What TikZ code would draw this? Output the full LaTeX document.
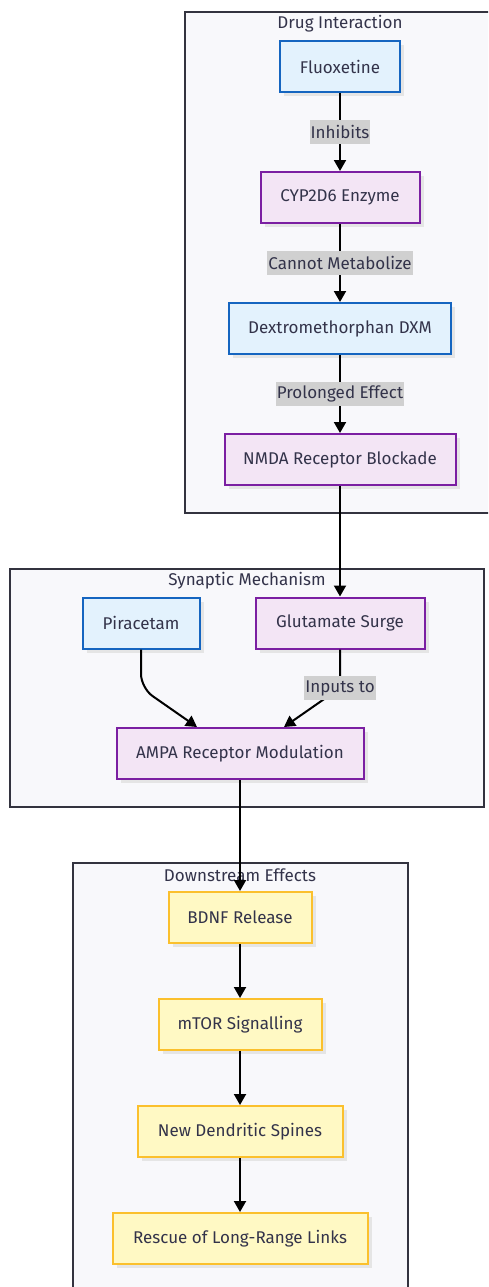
\documentclass[tikz,border=0pt]{standalone}
\usepackage{fontspec}
\setmainfont{Fira Sans}
\usepackage{tikz}
\usetikzlibrary{positioning,calc,arrows.meta,shadows}

\definecolor{drugfill}{HTML}{E3F2FD}
\definecolor{drugline}{HTML}{1565C0}
\definecolor{procfill}{HTML}{F3E5F5}
\definecolor{procline}{HTML}{7B1FA2}
\definecolor{efffill}{HTML}{FFF9C4}
\definecolor{effline}{HTML}{FBC02D}
\definecolor{grpfill}{HTML}{F8F8FB}
\definecolor{grpline}{HTML}{33333F}
\definecolor{lblgray}{HTML}{D0D0D0}
\definecolor{txtdark}{HTML}{33334A}

\tikzset{
    txt/.style={font=\fontsize{17}{20}\selectfont, text=txtdark},
    box/.style={txt, draw, line width=2pt, minimum height=51pt, inner sep=2pt,
        drop shadow={fill=black!10, shadow xshift=4pt, shadow yshift=-4pt, opacity=1}},
    drug/.style={box, fill=drugfill, draw=drugline},
    proc/.style={box, fill=procfill, draw=procline},
    effect/.style={box, fill=efffill, draw=effline},
    group/.style={draw=grpline, fill=grpfill, line width=1.5pt},
    lbl/.style={txt, fill=lblgray, inner xsep=1pt, inner ysep=0pt, minimum height=24pt},
    arr/.style={-{Triangle[length=11pt,width=12pt]}, line width=2pt, black},
}

\begin{document}
\begin{tikzpicture}[x=1pt, y=-1pt]
    \clip (0,0) rectangle (488,1287);

    % clusters
    \draw[group] (185,12) rectangle (495,513);
    \draw[group] (10,569) rectangle (484,807);
    \draw[group] (73,863) rectangle (408,1300);
    \node[txt] (t1) at (340,24) {Drug Interaction};
    \node[txt] (t2) at (247,581) {Synaptic Mechanism};
    \node[txt] (t3) at (240,875) {Downstream Effects};

    % drug interaction
    \node[drug, minimum width=120pt] (flu) at (340,66.5) {Fluoxetine};
    \node[proc, minimum width=159pt, below=78pt of flu] (cyp) {CYP2D6 Enzyme};
    \node[drug, minimum width=222pt, below=78pt of cyp] (dxm) {Dextromethorphan DXM};
    \node[proc, minimum width=231pt, below=78pt of dxm] (nmda) {NMDA Receptor Blockade};

    % synaptic mechanism
    \node[drug, minimum width=117pt] (pira) at (141,623) {Piracetam};
    \node[proc, minimum width=169pt] (glu) at (340,623) {Glutamate Surge};
    \node[proc, minimum width=247pt] (ampa) at (240,753.5) {AMPA Receptor Modulation};

    % downstream effects
    \node[effect, minimum width=143pt] (bdnf) at (240,917.5) {BDNF Release};
    \node[effect, minimum width=163pt, below=54pt of bdnf] (mtor) {mTOR Signalling};
    \node[effect, minimum width=205pt, below=54pt of mtor] (spines) {New Dendritic Spines};
    \node[effect, minimum width=255pt, below=54pt of spines] (rescue) {Rescue of Long-Range Links};

    % edges
    \draw[arr] (flu) -- node[lbl] {Inhibits} (cyp);
    \draw[arr] (cyp) -- node[lbl] {Cannot Metabolize} (dxm);
    \draw[arr] (dxm) -- node[lbl] {Prolonged Effect} (nmda);
    \draw[arr] (nmda) -- (glu);

    \coordinate (pbend) at (141,688);
    \coordinate (gbend) at (340,688);
    \draw[arr, rounded corners=14pt] (pira.south) -- (pbend) -- ($(ampa.north)+(-43,0)$);
    \draw[arr] (glu.south) -- (gbend) -- ($(ampa.north)+(44,0)$);
    \node[lbl] (inp) at (gbend) {Inputs to};

    \draw[arr] (ampa) -- (bdnf);
    \foreach \a/\b in {bdnf/mtor, mtor/spines, spines/rescue}{
        \draw[arr] (\a) -- (\b);
    }
\end{tikzpicture}
\end{document}
